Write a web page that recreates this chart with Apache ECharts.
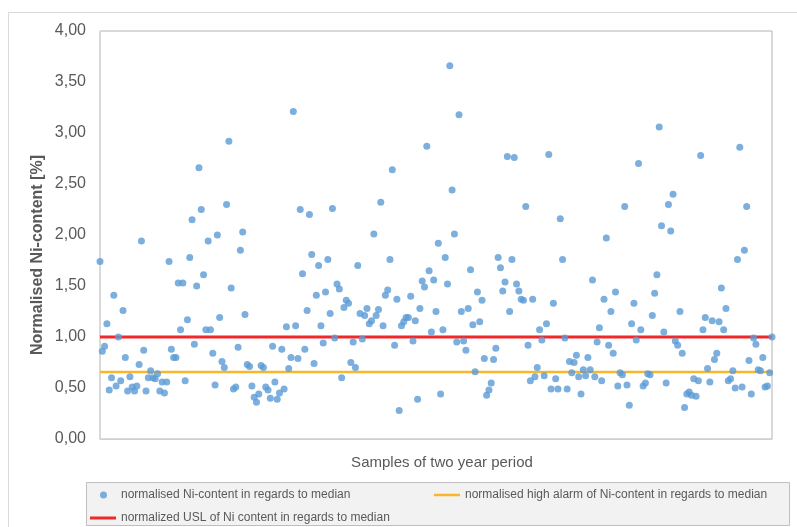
<!DOCTYPE html>
<html>
<head>
<meta charset="utf-8">
<script src="https://cdn.jsdelivr.net/npm/echarts@6/dist/echarts.min.js"></script>
<style>
html,body{margin:0;padding:0;background:#fff;}
#chart{width:797px;height:527px;}
</style>
</head>
<body>
<div id="chart"></div>
<script>
// Normalised Ni-content values, in sample order
const niContent = [
1.74,0.86,0.91,1.13,0.48,0.60,1.41,0.52,1.00,0.57,1.26,0.80,0.47,0.61,0.51,0.47,0.52,0.73,1.94,0.87,
0.47,0.60,0.67,0.60,0.59,0.64,0.47,0.56,0.45,0.56,1.74,0.88,0.80,0.80,1.53,1.07,1.53,0.57,1.17,1.78,
2.15,0.93,1.50,2.66,2.25,1.61,1.07,1.94,1.07,0.84,0.53,2.00,1.19,0.76,0.70,2.30,2.92,1.48,0.49,0.51,
0.90,1.85,2.03,1.22,0.73,0.71,0.52,0.41,0.36,0.44,0.72,0.70,0.51,0.48,0.40,0.91,0.56,0.39,0.45,0.88,
0.49,1.10,0.69,0.80,3.21,1.11,0.79,2.25,1.62,0.88,1.26,2.20,1.81,0.74,1.41,1.70,1.11,0.94,1.44,
1.76,1.23,2.26,0.99,1.52,1.47,0.60,1.29,1.36,1.33,0.75,0.95,0.70,1.70,1.23,0.98,1.21,1.28,1.13,1.16,
2.01,1.21,1.27,2.32,1.11,1.41,1.46,1.76,2.64,0.92,1.37,0.28,1.11,1.15,1.19,1.19,1.40,0.96,1.16,0.39,
1.28,1.55,1.49,2.87,1.65,1.05,1.56,1.25,1.92,0.44,1.07,1.78,1.52,3.66,2.44,2.01,0.95,3.18,1.25,0.96,
0.87,1.28,1.66,1.12,0.66,1.44,1.15,1.36,0.79,0.43,0.48,0.55,0.78,0.89,1.78,1.68,1.45,1.54,2.77,1.25,
1.76,2.76,1.52,1.45,1.37,1.36,2.28,0.92,0.57,1.37,0.61,0.70,1.07,0.97,0.62,1.13,2.79,
0.49,1.33,0.59,0.49,2.16,1.76,0.99,0.49,0.76,0.65,0.75,0.82,0.61,0.44,0.68,0.62,0.80,0.68,1.56,0.61,
0.95,1.09,0.57,1.37,1.97,0.92,1.25,0.84,1.44,0.52,0.65,0.63,2.28,0.53,0.33,1.13,1.33,0.97,2.70,1.07,
0.52,0.55,0.64,0.63,1.21,1.43,1.61,3.06,2.09,1.05,0.55,2.30,2.04,2.40,0.96,0.92,1.25,0.84,0.31,0.44,
0.46,0.43,0.59,0.42,0.57,2.78,1.07,1.19,0.69,0.56,1.16,0.78,0.84,1.15,1.48,1.07,1.28,0.57,0.59,0.67,
0.50,1.76,2.86,0.51,1.85,2.28,0.77,0.44,0.99,0.93,0.68,0.67,0.80,0.51,0.52,0.65,1.00
];
// Reference levels
const uslLevel = 1.00;
const alarmLevel = 0.657;
// Y-axis ticks
const yTicks = [0, 0.5, 1, 1.5, 2, 2.5, 3, 3.5, 4];
// Texts
const nameScatter = 'normalised Ni-content in regards to median';
const nameAlarm = 'normalised high alarm of Ni-content in regards to median';
const nameUsl = 'normalized USL of Ni content in regards to median';
const yTitle = 'Normalised Ni-content [%]';
const xTitle = 'Samples of two year period';

const N = niContent.length;
const scatterData = niContent.map((v, i) => [i + 1, v]);
const uslData = [[1, uslLevel], [N, uslLevel]];
const alarmData = [[1, alarmLevel], [N, alarmLevel]];

const FONT = '"Liberation Sans", Arial, sans-serif';
const legendText = {color: '#595959', fontSize: 12, fontFamily: FONT};
const chart = echarts.init(document.getElementById('chart'), null, {renderer: 'canvas'});
chart.setOption({
  animation: false,
  backgroundColor: '#ffffff',
  textStyle: {fontFamily: FONT},
  grid: {left: 100, right: 25, top: 31, bottom: 88, show: true, borderColor: '#b4b4b4', borderWidth: 1, backgroundColor: 'transparent'},
  xAxis: {
    type: 'value', min: 1, max: N,
    axisLabel: {show: false}, axisTick: {show: false}, splitLine: {show: false},
    axisLine: {show: true, lineStyle: {color: '#d0d0d0', width: 1}}
  },
  yAxis: {
    type: 'value', min: yTicks[0], max: yTicks[yTicks.length - 1], interval: yTicks[1] - yTicks[0],
    axisLine: {show: true, lineStyle: {color: '#d9d9d9', width: 1}},
    axisTick: {show: false}, splitLine: {show: false},
    axisLabel: {
      margin: 14, color: '#595959', fontSize: 16, fontFamily: FONT,
      formatter: v => v.toFixed(2).replace('.', ',')
    }
  },
  legend: [
    {data: [{name: nameScatter, icon: 'circle'}], left: 100, top: 489, padding: 0, itemWidth: 7, itemHeight: 7, itemGap: 0,
     textStyle: Object.assign({padding: [0, 0, 0, 9]}, legendText), selectedMode: false},
    {data: [{name: nameAlarm, icon: 'rect'}], left: 434, top: 489, padding: 0, itemWidth: 26, itemHeight: 2.5, itemGap: 0,
     textStyle: legendText, selectedMode: false},
    {data: [{name: nameUsl, icon: 'rect'}], left: 90, top: 512, padding: 0, itemWidth: 26, itemHeight: 3, itemGap: 0,
     textStyle: legendText, selectedMode: false}
  ],
  graphic: [
    {type: 'rect', silent: true, z: -10, shape: {x: 8.5, y: 12.5, width: 800, height: 530}, style: {fill: 'none', stroke: '#d9d9d9', lineWidth: 1}},
    {type: 'rect', silent: true, z: -5, shape: {x: 86.5, y: 482.5, width: 703, height: 43}, style: {fill: '#f2f2f2', stroke: '#bfbfbf', lineWidth: 1}},
    {type: 'text', silent: true, x: 38, y: 255, rotation: Math.PI / 2,
     style: {text: yTitle, fill: '#595959', font: 'bold 16px ' + FONT, textAlign: 'center', textVerticalAlign: 'middle'}},
    {type: 'text', silent: true, x: 442, y: 463,
     style: {text: xTitle, fill: '#595959', font: '15px ' + FONT, textAlign: 'center', textVerticalAlign: 'middle'}}
  ],
  series: [
    {name: nameScatter, type: 'scatter', data: scatterData, symbol: 'circle', symbolSize: 7,
     itemStyle: {color: '#5b9bd5'}, z: 4},
    {name: nameAlarm, type: 'line', data: alarmData, symbol: 'none', showSymbol: false,
     lineStyle: {color: '#f8b62a', width: 2.5}, itemStyle: {color: '#f8b62a'}, z: 2},
    {name: nameUsl, type: 'line', data: uslData, symbol: 'none', showSymbol: false,
     lineStyle: {color: '#f0282a', width: 3}, itemStyle: {color: '#f0282a'}, z: 3}
  ]
});
</script>
</body>
</html>
